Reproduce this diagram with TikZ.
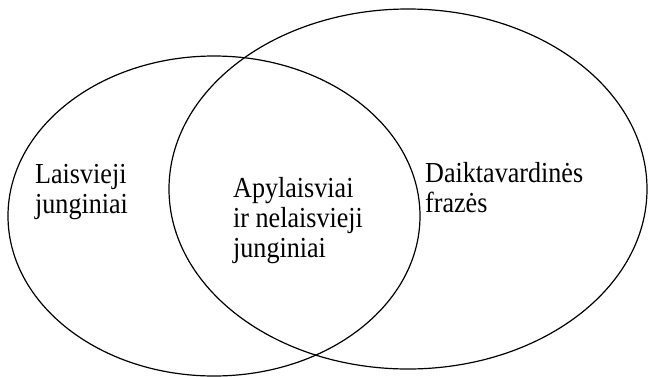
\documentclass[tikz,border=0pt]{standalone}
\usepackage{fontspec}
\setmainfont{Liberation Serif}
\tikzset{
	venntext/.style={anchor=north west, inner sep=0pt, align=left,
		xscale=0.9, transform shape,
		font=\fontsize{29}{30}\selectfont},
	vennline/.style={line width=1.2pt}
}
\begin{document}
\begin{tikzpicture}[x=1pt,y=-1pt]
	\useasboundingbox (0,0) rectangle (649,376);

	% sets
	\draw[vennline] (214,216) ellipse [x radius=206, y radius=160];
	\draw[vennline] (408,189) ellipse [x radius=239, y radius=180];

	% labels
	\node[venntext] (free) at (35,164) {Laisvieji\\junginiai};
	\node[venntext] (mixed) at (233,177) {Apylaisviai\\ir nelaisvieji\\junginiai};
	\node[venntext] (noun) at (425,162) {Daiktavardinės\\frazės};

\end{tikzpicture}
\end{document}
